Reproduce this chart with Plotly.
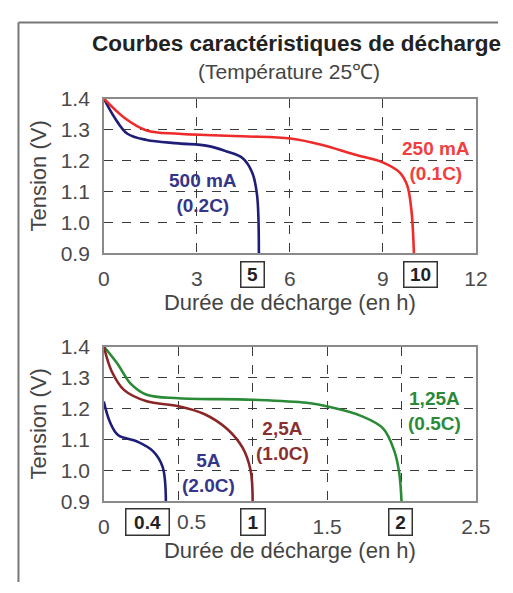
import plotly.graph_objects as go

# ---------------- data ----------------
# Top chart: discharge at 500 mA (0.2C) and 250 mA (0.1C), hours vs volts
t500_h = [0, 0.35, 0.76, 1.38, 2.41, 3.34, 3.96, 4.47, 4.78, 4.94, 5.0]
v500 = [1.40, 1.338, 1.286, 1.266, 1.255, 1.247, 1.229, 1.208, 1.162, 1.089, 0.9]
t250_h = [0, 0.66, 1.38, 2.41, 4.47, 6.02, 7.05, 8.08, 9.01, 9.53, 9.78, 9.92, 10.0]
v250 = [1.40, 1.338, 1.297, 1.286, 1.278, 1.271, 1.25, 1.219, 1.193, 1.162, 1.12, 1.038, 0.9]

# Bottom chart: 1.25A (0.5C), 2.5A (1.0C), 5A (2.0C)
t1250_h = [0, 0.095, 0.18, 0.288, 0.503, 0.997, 1.362, 1.512, 1.727, 1.877, 1.952, 1.985, 2.0]
v1250 = [1.40, 1.342, 1.28, 1.244, 1.233, 1.228, 1.218, 1.205, 1.176, 1.135, 1.062, 0.99, 0.9]
t2500_h = [0, 0.052, 0.137, 0.288, 0.503, 0.674, 0.825, 0.932, 0.986, 1.0]
v2500 = [1.40, 1.321, 1.259, 1.223, 1.207, 1.182, 1.135, 1.073, 1.0, 0.9]
t5000_h = [0, 0.041, 0.095, 0.224, 0.33, 0.395, 0.417]
v5000 = [1.222, 1.156, 1.114, 1.093, 1.062, 1.011, 0.9]

y_ticks = [0.9, 1.0, 1.1, 1.2, 1.3, 1.4]
y_ticktext = ["0.9", "1.0", "1.1", "1.2", "1.3", "1.4"]
top_xticks = [0, 3, 6, 9, 12]
top_xticktext = ["0", "3", "6", "9", "12"]
bot_xticks = [0, 0.5, 1, 1.5, 2, 2.5]
bot_xticktext = ["0", "", "", "1.5", "", "2.5"]
shifted_tick = 0.5          # drawn beside the boxed 0.4 marker
top_boxed = [5, 10]
bot_boxed = [0.4, 1, 2]

# ---------------- style ----------------
W, H = 513, 593
FONT = "Liberation Sans, Arial, sans-serif"
NAVY = "#1e1e78"
RED = "#ef2a2a"
BROWN = "#8a2626"
GREEN = "#2a8a36"
GRID = "#3a3a3a"
TICKC = "#4a4a4a"
TICK_SIZE = 21

def px(x):
    return x / W

def py(y):
    return 1 - y / H

fig = go.Figure()

line_kw = dict(mode="lines", line_shape="spline", hoverinfo="skip", showlegend=False)
for xs, ys, xa, ya, col in [
    (t500_h, v500, "x", "y", NAVY),
    (t250_h, v250, "x", "y", RED),
    (t1250_h, v1250, "x2", "y2", GREEN),
    (t2500_h, v2500, "x2", "y2", BROWN),
    (t5000_h, v5000, "x2", "y2", NAVY),
]:
    fig.add_trace(go.Scatter(x=xs, y=ys, xaxis=xa, yaxis=ya,
                             line=dict(color=col, width=2.6, smoothing=1.0), **line_kw))

xdom = [px(102), px(490)]
common_axis = dict(showline=True, linecolor="#8a8a8a", linewidth=1.5, mirror=True,
                   showgrid=True, gridcolor=GRID, gridwidth=1, griddash="dash",
                   zeroline=False, ticks="",
                   tickfont=dict(family=FONT, size=TICK_SIZE, color=TICKC),
                   fixedrange=True)
title_font = dict(family=FONT, size=22, color="#444")

fig.update_layout(
    width=W, height=H, margin=dict(l=0, r=0, t=0, b=0),
    paper_bgcolor="white", plot_bgcolor="white",
    xaxis=dict(domain=xdom, anchor="y", range=[0, 12], tickvals=top_xticks,
               ticktext=top_xticktext, ticklabelstandoff=6,
               title=dict(text="Durée de décharge (en h)", font=title_font, standoff=3),
               **common_axis),
    yaxis=dict(domain=[py(251), py(90)], anchor="x", range=[0.9, 1.4], tickvals=y_ticks,
               ticktext=y_ticktext, ticklabelstandoff=8,
               title=dict(text="Tension (V)", font=title_font, standoff=8),
               **common_axis),
    xaxis2=dict(domain=xdom, anchor="y2", range=[0, 2.5], tickvals=bot_xticks,
                ticktext=bot_xticktext, ticklabelstandoff=6,
                title=dict(text="Durée de décharge (en h)", font=title_font, standoff=3),
                **common_axis),
    yaxis2=dict(domain=[py(509), py(348)], anchor="x2", range=[0.9, 1.4], tickvals=y_ticks,
                ticktext=y_ticktext, ticklabelstandoff=8,
                title=dict(text="Tension (V)", font=title_font, standoff=8),
                **common_axis),
)

# outer frame (left + top edges)
fig.add_shape(type="line", xref="paper", yref="paper", x0=px(13), x1=px(13), y0=0, y1=py(11),
              line=dict(color="#777", width=2))
fig.add_shape(type="line", xref="paper", yref="paper", x0=px(13), x1=1, y0=py(11), y1=py(11),
              line=dict(color="#777", width=2))

# title and subtitle
fig.add_annotation(text="<b>Courbes caractéristiques de décharge</b>", xref="paper", yref="paper",
                   x=px(303), y=py(33), xanchor="center", yanchor="middle", showarrow=False,
                   font=dict(family=FONT, size=22.5, color="#222"))
fig.add_annotation(text="(Température 25℃)", xref="paper", yref="paper",
                   x=px(295), y=py(62), xanchor="center", yanchor="middle", showarrow=False,
                   font=dict(family=FONT, size=21, color="#444"))

# tick label shifted right to leave room for the boxed 0.4
fig.add_annotation(text=f"{shifted_tick:g}", xref="x2", yref="paper", x=shifted_tick, y=py(530),
                   xshift=13, xanchor="center", yanchor="middle", showarrow=False,
                   font=dict(family=FONT, size=TICK_SIZE, color=TICKC))

# boxed tick values (capacity markers)
box_font = dict(family=FONT, size=19, color="#222")
top_box = {5: (-6, 18), 10: (7, 28)}
for v in top_boxed:
    shift, w = top_box[v]
    fig.add_annotation(text=f"<b>{v}</b>", xref="x", yref="paper", x=v, y=py(273),
                       xshift=shift, width=w, height=20, xanchor="center", yanchor="middle",
                       showarrow=False, bordercolor="#333", borderwidth=1.5, borderpad=2,
                       font=box_font)
bot_box = {0.4: (-16, 38), 1: (0, 19), 2: (-1, 18)}
for v in bot_boxed:
    shift, w = bot_box[v]
    fig.add_annotation(text=f"<b>{v:g}</b>", xref="x2", yref="paper", x=v, y=py(531),
                       xshift=shift, width=w, height=21, xanchor="center", yanchor="middle",
                       showarrow=False, bordercolor="#333", borderwidth=1.5, borderpad=2,
                       font=box_font)

# curve labels
labels = [
    ("x", "y", 3.19, 1.094, "<b>500 mA<br>(0.2C)</b>", "#35358a"),
    ("x", "y", 10.70, 1.197, "<b>250 mA<br>(0.1C)</b>", "#f04040"),
    ("x2", "y2", 0.702, 0.99, "<b>5A<br>(2.0C)</b>", "#35358a"),
    ("x2", "y2", 1.198, 1.094, "<b>2,5A<br>(1.0C)</b>", "#8b3030"),
    ("x2", "y2", 2.223, 1.192, "<b>1,25A<br>(0.5C)</b>", "#2a8a3a"),
]
for xr, yr, x, y, txt, col in labels:
    fig.add_annotation(text=txt, xref=xr, yref=yr, x=x, y=y, xanchor="center", yanchor="middle",
                       showarrow=False, align="center",
                       font=dict(family=FONT, size=19, color=col))

fig.write_html("out.html")
